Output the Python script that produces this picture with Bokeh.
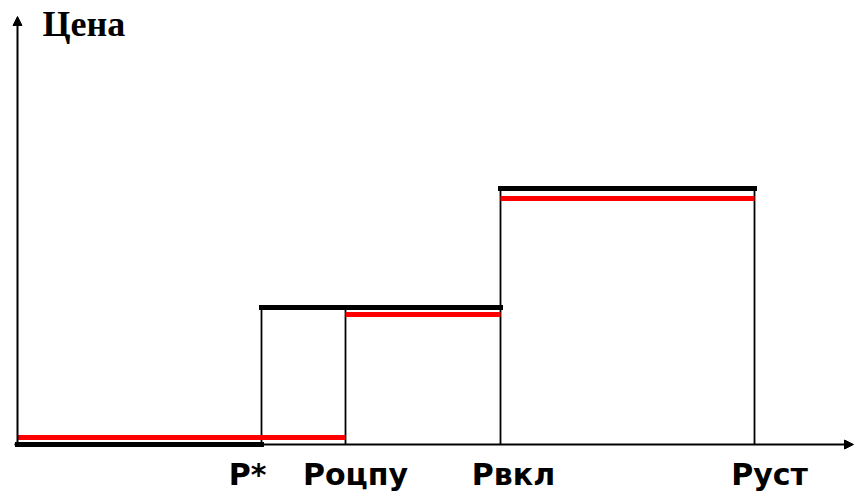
from bokeh.plotting import figure
from bokeh.models import Range1d, Arrow, NormalHead, ColumnDataSource
from bokeh.core.properties import value
from bokeh.embed import file_html
from bokeh.resources import INLINE

# Quantity thresholds (x): origin, P*, Роцпу, Рвкл, Руст
q_origin = 0
q_pstar = 244
q_ocpu = 328
q_vkl = 483
q_ust = 737

# Tick labels and where they sit along x
tick_labels = ["P*", "Роцпу", "Рвкл", "Руст"]
label_x = [230, 338, 496, 752]

# Price levels of the two step curves
black_price = [0, 137, 256]
red_price = [7, 130, 246]

y_label = "Цена"

p = figure(width=854, height=495, output_backend="svg", toolbar_location=None,
           x_range=Range1d(-17, 837), y_range=Range1d(-51, 444),
           x_axis_location=None, y_axis_location=None, min_border=0)
p.grid.visible = False
p.outline_line_color = None
p.background_fill_color = "white"
p.border_fill_color = "white"

# vertical edges of the steps
vsrc = ColumnDataSource(dict(
    x=[q_pstar, q_ocpu, q_vkl, q_ust],
    y0=[0, 0, 0, 0],
    y1=[black_price[1], black_price[1], black_price[2], black_price[2]],
))
p.segment(x0="x", y0="y0", x1="x", y1="y1", source=vsrc, line_color="black", line_width=1.8)

# black step (upper)
bsrc = ColumnDataSource(dict(
    x0=[q_origin, q_pstar, q_vkl],
    x1=[q_pstar, q_vkl, q_ust],
    y=black_price,
))
p.segment(x0="x0", y0="y", x1="x1", y1="y", source=bsrc, line_color="black",
          line_width=5, line_cap="square")

# red step
rsrc = ColumnDataSource(dict(
    x0=[q_origin, q_ocpu, q_vkl],
    x1=[q_ocpu, q_vkl, q_ust],
    y=red_price,
))
p.segment(x0="x0", y0="y", x1="x1", y1="y", source=rsrc, line_color="#ff0000",
          line_width=5, line_cap="butt")

# axes with arrows
p.add_layout(Arrow(x_start=-3, y_start=0, x_end=836, y_end=0, line_width=2, line_color="black",
                   end=NormalHead(size=9, fill_color="black", line_color="black")))
p.add_layout(Arrow(x_start=0, y_start=0, x_end=0, y_end=428, line_width=2, line_color="black",
                   end=NormalHead(size=9, fill_color="black", line_color="black")))

# axis title
p.text(x=[25], y=[421], text=[y_label], text_font=value("Liberation Serif"),
       text_font_style="bold", text_font_size="36px", text_color="black",
       text_align="left", text_baseline="alphabetic")

# tick labels
lsrc = ColumnDataSource(dict(x=label_x, y=[-30] * len(label_x), t=tick_labels))
p.text(x="x", y="y", text="t", source=lsrc, text_font=value("DejaVu Sans"),
       text_font_style="bold", text_font_size="30px", text_color="black",
       text_align="center", text_baseline="alphabetic")

open("out.html", "w").write(file_html(p, INLINE))
